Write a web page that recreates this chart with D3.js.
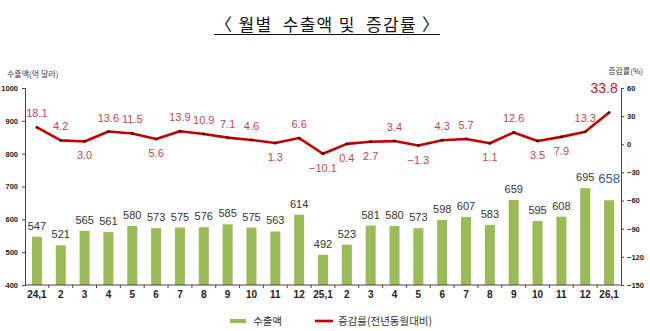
<!DOCTYPE html>
<html><head><meta charset="utf-8">
<script src="https://cdn.jsdelivr.net/npm/d3@7"></script>
<style>
html,body{margin:0;padding:0;background:#fff;}
svg{display:block;}
</style></head>
<body><div id="chart"></div>
<script>
const categories = ["24,1","2","3","4","5","6","7","8","9","10","11","12","25,1","2","3","4","5","6","7","8","9","10","11","12","26,1"];
const exportsVal = [547,521,565,561,580,573,575,576,585,575,563,614,492,523,581,580,573,598,607,583,659,595,608,695,658];
const rateVal = [18.1,4.2,3.0,13.6,11.5,5.6,13.9,10.9,7.1,4.6,1.3,6.6,-10.1,0.4,2.7,3.4,-1.3,4.3,5.7,1.1,12.6,3.5,7.9,13.3,33.8];
const rateLabelSide = ["up","up","down","up","up","down","up","up","up","up","down","up","down","down","down","up","down","up","up","down","up","down","down","up","up"];
const leftTicks = [400,500,600,700,800,900,1000];
const rightTicks = [-150,-120,-90,-60,-30,0,30,60];
const titleText = "〈 월별  수출액 및  증감률 〉";
const leftTitle = "수출액(억 달러)";
const rightTitle = "증감률(%)";
const legendLabels = ["수출액","증감률(전년동월대비)"];

const W = 650, H = 331;
const svg = d3.select("#chart").append("svg").attr("width", W).attr("height", H);
const kr = "'Noto Sans CJK KR','Noto Sans',sans-serif";
const num = "'Liberation Sans',Arial,sans-serif";

const x = d3.scaleBand().domain(d3.range(categories.length)).range([25,621]).paddingInner(0.58).paddingOuter(0.29);
const yL = d3.scaleLinear().domain([400,1000]).range([285,88]);
const yR = d3.scaleLinear().domain([-150,60]).range([285,88]);
const cx = i => x(i) + x.bandwidth()/2;

// title
const t = svg.append("text").attr("x", 327).attr("y", 31).attr("text-anchor","middle")
  .attr("font-family", kr).attr("font-size", 17).attr("fill","#111")
  .attr("xml:space","preserve").style("white-space","pre")
  .attr("textLength", 224).attr("lengthAdjust","spacing")
  .text(titleText);
svg.append("line").attr("x1",214).attr("x2",440).attr("y1",34.5).attr("y2",34.5).attr("stroke","#111").attr("stroke-width",1.2);

// axis titles
svg.append("text").attr("x",7).attr("y",77).attr("font-family",kr).attr("font-size",8).attr("fill","#333").text(leftTitle);
svg.append("text").attr("x",643).attr("y",74).attr("text-anchor","end").attr("font-family",kr).attr("font-size",8).attr("fill","#333").text(rightTitle);

// bars
svg.append("g").selectAll("rect").data(exportsVal).join("rect")
  .attr("x",(d,i)=>x(i)).attr("width",x.bandwidth())
  .attr("y",d=>yL(d)).attr("height",d=>yL(400)-yL(d))
  .attr("fill","#9BBB59");

// bar labels
const last = exportsVal.length-1;
svg.append("g").selectAll("text").data(exportsVal).join("text")
  .attr("x",(d,i)=>cx(i))
  .attr("y",(d,i)=> i===last ? yL(d)-17 : yL(d)-7)
  .attr("text-anchor","middle")
  .attr("font-family",num)
  .attr("font-size",(d,i)=> i===last ? 13 : 11)
  .attr("fill",(d,i)=> i===last ? "#2E5C8A" : "#333")
  .text(d=>d);

// axes
const gL = svg.append("g").attr("transform","translate(25,0)")
  .call(d3.axisLeft(yL).tickValues(leftTicks).tickSize(3).tickFormat(d3.format("d")));
gL.select(".domain").attr("stroke","#444");
gL.selectAll(".tick line").attr("stroke","#444");
gL.selectAll("text").attr("font-family",num).attr("font-size",7.5).attr("font-weight","bold").attr("fill","#222").attr("x",-7);

const gR = svg.append("g").attr("transform","translate(621,0)")
  .call(d3.axisRight(yR).tickValues(rightTicks).tickSize(3).tickFormat(d=> d<0 ? "−"+Math.abs(d) : d));
gR.select(".domain").attr("stroke","#444");
gR.selectAll(".tick line").attr("stroke","#444");
gR.selectAll("text").attr("font-family",num).attr("font-size",7.5).attr("font-weight","bold").attr("fill","#222").attr("x",6);

const gX = svg.append("g").attr("transform","translate(0,285)");
gX.append("line").attr("x1",25).attr("x2",621).attr("stroke","#444");
gX.selectAll("line.tk").data(d3.range(1,categories.length)).join("line").attr("class","tk")
  .attr("x1",i=>x(i)-x.step()*x.paddingInner()/2).attr("x2",i=>x(i)-x.step()*x.paddingInner()/2)
  .attr("y1",0).attr("y2",3).attr("stroke","#444");
gX.selectAll("text").data(categories).join("text")
  .attr("x",(d,i)=>cx(i)).attr("y",13).attr("text-anchor","middle")
  .attr("font-family",num).attr("font-size",10).attr("font-weight","bold").attr("fill","#222")
  .text(d=>d);

// line
const line = d3.line().x((d,i)=>cx(i)).y(d=>yR(d));
svg.append("path").datum(rateVal).attr("d",line).attr("fill","none")
  .attr("stroke","#C00000").attr("stroke-width",2.6).attr("stroke-linejoin","round");
svg.append("g").selectAll("circle").data(rateVal).join("circle")
  .attr("cx",(d,i)=>cx(i)).attr("cy",d=>yR(d)).attr("r",1.4).attr("fill","#3a0000");

// line labels
svg.append("g").selectAll("text").data(rateVal).join("text")
  .attr("x",(d,i)=> i===last ? cx(i)-5 : cx(i))
  .attr("y",(d,i)=> i===last ? yR(d)-20 : (rateLabelSide[i]==="up" ? yR(d)-10 : yR(d)+18))
  .attr("text-anchor","middle")
  .attr("font-family",num)
  .attr("font-size",(d,i)=> i===last ? 14 : 11)
  .attr("fill",(d,i)=> i===last ? "#C0202A" : "#C0474F")
  .text(d=> d<0 ? "−"+Math.abs(d).toFixed(1) : d.toFixed(1));

// legend
svg.append("rect").attr("x",230).attr("y",319).attr("width",16).attr("height",4).attr("fill","#9BBB59");
svg.append("text").attr("x",253).attr("y",325).attr("font-family",kr).attr("font-size",10.5).attr("fill","#333").text(legendLabels[0]);
svg.append("line").attr("x1",315).attr("x2",333).attr("y1",321).attr("y2",321).attr("stroke","#C00000").attr("stroke-width",2.6);
svg.append("text").attr("x",338).attr("y",325).attr("font-family",kr).attr("font-size",10.5).attr("fill","#333").text(legendLabels[1]);
</script>
</body></html>
